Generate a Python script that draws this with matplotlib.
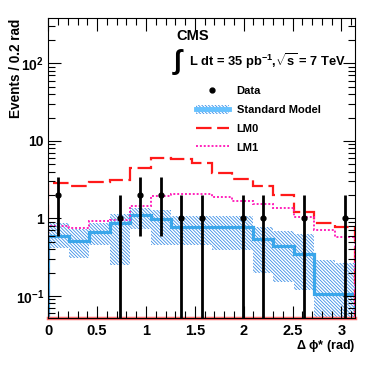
import numpy as np
import matplotlib
matplotlib.use("Agg")
import matplotlib.pyplot as plt
from matplotlib.patches import Patch
from matplotlib.lines import Line2D
from matplotlib.ticker import FixedLocator, FixedFormatter, LogLocator, NullFormatter, MultipleLocator

plt.rcParams['font.family'] = ['Liberation Sans', 'DejaVu Sans']
plt.rcParams['font.weight'] = 'bold'
plt.rcParams['mathtext.fontset'] = 'custom'
plt.rcParams['mathtext.rm'] = 'Liberation Sans:bold'
plt.rcParams['mathtext.bf'] = 'Liberation Sans:bold'
plt.rcParams['mathtext.it'] = 'Liberation Sans:bold'
plt.rcParams['hatch.linewidth'] = 0.6

# ---- data ----
n_bins = 15
edges = np.linspace(0, np.pi, n_bins + 1)
sm = [0.60, 0.515, 0.67, 0.88, 1.12, 0.98, 0.77, 0.77, 0.77, 0.77, 0.55, 0.44, 0.35, 0.105, 0.105]
sm_up = [0.86, 0.74, 0.88, 1.14, 1.38, 1.28, 1.08, 1.08, 1.08, 1.08, 0.78, 0.69, 0.63, 0.29, 0.263]
sm_lo = [0.41, 0.305, 0.45, 0.25, 0.72, 0.45, 0.45, 0.45, 0.39, 0.39, 0.20, 0.152, 0.12, 0.01, 0.01]
lm0 = [2.85, 2.62, 2.96, 3.15, 4.52, 5.95, 5.85, 5.15, 3.85, 3.18, 2.62, 2.02, 1.22, 0.86, 0.78]
lm1 = [0.80, 0.76, 0.92, 0.96, 1.46, 1.95, 2.08, 2.05, 1.90, 1.70, 1.52, 1.38, 1.03, 0.70, 0.57]
data_bins = [0, 3, 4, 5, 6, 7, 9, 10, 12, 14]
data_vals = [2, 1, 2, 2, 1, 1, 1, 1, 1, 1]

centers = 0.5 * (edges[:-1] + edges[1:])

fig = plt.figure(figsize=(3.74, 3.67), dpi=100)
ax = fig.add_axes([0.129, 0.1327, 0.821, 0.8173])
ax.set_yscale('log')
ax.set_xlim(0, np.pi)
ax.set_ylim(0.0515, 380)

blue = '#3aa6ea'
hatch_col = '#3b8ee6'
HATCH = '\\' * 10
ax.stairs(sm_up, edges, baseline=sm_lo, fill=True, facecolor='none',
          edgecolor=hatch_col, hatch=HATCH, linewidth=0)
ax.stairs(sm, edges, color=blue, linewidth=2.3)
ax.stairs(lm0, edges, color='#ff1a1a', linewidth=1.6, linestyle=(0, (7, 2.5)))
ax.stairs(lm1, edges, color='#ff22bb', linewidth=1.4, linestyle=(0, (1, 1)))
ax.axhline(0.0515, color='#ff7070', linewidth=2.5, clip_on=False, zorder=1)

dx = centers[data_bins]
dv = np.array(data_vals, dtype=float)
err = np.sqrt(dv)
ax.errorbar(dx, dv, yerr=err, fmt='o', color='black', markersize=3.5,
            elinewidth=2, capsize=0, zorder=5)

# ticks
ax.tick_params(which='both', direction='in', top=True, right=True)
ax.tick_params(which='major', length=9, width=0.8, labelsize=10.5, pad=4)
ax.tick_params(axis='y', which='major', labelsize=10, pad=3)
ax.tick_params(which='minor', length=5, width=0.8)
ax.xaxis.set_major_locator(FixedLocator([0, 0.5, 1, 1.5, 2, 2.5, 3]))
ax.xaxis.set_major_formatter(FixedFormatter(['0', '0.5', '1', '1.5', '2', '2.5', '3']))
ax.xaxis.set_minor_locator(MultipleLocator(0.1))
ax.yaxis.set_major_locator(FixedLocator([0.1, 1, 10, 100]))
ax.yaxis.set_major_formatter(FixedFormatter([r'10$^{-1}$', '1', '10', r'10$^{2}$']))
ax.yaxis.set_minor_locator(LogLocator(base=10, subs=np.arange(2, 10)))
ax.yaxis.set_minor_formatter(NullFormatter())
for lab in ax.get_xticklabels() + ax.get_yticklabels():
    lab.set_fontweight('bold')

ax.set_ylabel('Events / 0.2 rad', fontsize=9.8, fontweight='bold')
ax.yaxis.set_label_coords(-0.082, 1.0, transform=ax.transAxes)
ax.yaxis.label.set_horizontalalignment('right')
ax.set_xlabel(r'$\Delta$ $\phi$* (rad)', fontsize=9, fontweight='bold')
ax.xaxis.set_label_coords(1.0, -0.065)
ax.xaxis.label.set_horizontalalignment('right')
ax.xaxis.label.set_verticalalignment('top')

# annotations
ax.text(0.416, 0.94, 'CMS', transform=ax.transAxes, fontsize=10.5, fontweight='bold',
        ha='left', va='center')
ax.text(0.403, 0.855, r'$\int$', transform=ax.transAxes, fontsize=20,
        ha='left', va='center', family='DejaVu Sans')
ax.text(0.46, 0.857, r'L dt = 35 pb$^{\mathbf{-1}}$,$\sqrt{\mathbf{s}}$ = 7 TeV',
        transform=ax.transAxes, fontsize=9.3, fontweight='bold', ha='left', va='center')

h_data = Line2D([], [], marker='o', color='black', linestyle='none', markersize=3.5)
h_sm = (Patch(facecolor='none', edgecolor=hatch_col, hatch=HATCH, linewidth=0),
        Line2D([], [], color='#66c2ff', linewidth=3.5))
h_lm0 = Line2D([], [], color='#ff1a1a', linewidth=1.6, linestyle=(0, (7, 2.5)))
h_lm1 = Line2D([], [], color='#ff22bb', linewidth=1.4, linestyle=(0, (1, 1)))
leg = ax.legend([h_data, h_sm, h_lm0, h_lm1], ['Data', 'Standard Model', 'LM0', 'LM1'],
                loc='upper left', bbox_to_anchor=(0.48, 0.775), frameon=False,
                fontsize=8, handlelength=3.0, handletextpad=0.7, labelspacing=0.75,
                handleheight=0.9, borderaxespad=0, borderpad=0)
for t in leg.get_texts():
    t.set_fontweight('bold')

fig.savefig('out.png', dpi=100)
